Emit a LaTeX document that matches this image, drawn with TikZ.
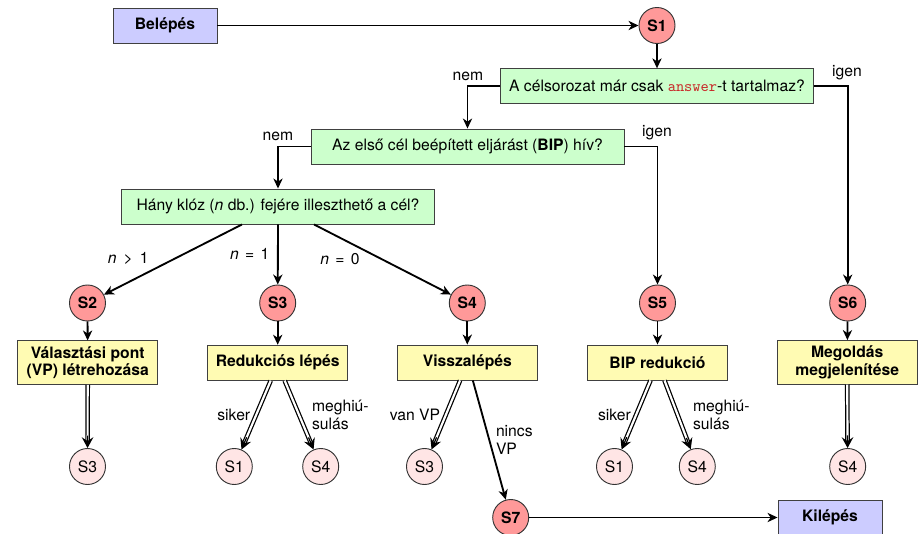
\documentclass[tikz,border=0pt]{standalone}
\usepackage{fontspec}
\setmainfont{TeX Gyre Heros}
\usetikzlibrary{arrows.meta}
\definecolor{ansred}{RGB}{200,40,40}
\begin{document}
\begin{tikzpicture}[x=0.65pt,y=-0.65pt,
  font=\fontsize{10.2}{12}\selectfont,
  >={Stealth[length=6.5pt,width=6pt,inset=2pt]},
  arr/.style={->,line width=1.2pt},
  dbltip/.style={-{Stealth[length=7pt,width=7.5pt,inset=2.5pt]},line width=0.8pt,black},
  dblline/.style={draw=black,double=white,double distance=1.4pt,line width=0.8pt,shorten >=3pt},
  io/.style={draw=black!75,line width=0.6pt,fill=blue!20,minimum width=104*0.65pt,minimum height=35*0.65pt,inner sep=0pt,font=\fontsize{10.2}{12}\selectfont\bfseries},
  qbox/.style={draw=black!75,line width=0.6pt,fill=green!20,minimum width=313*0.65pt,minimum height=35*0.65pt,inner sep=0pt},
  act/.style={draw=black!75,line width=0.6pt,fill=yellow!30,minimum width=140*0.65pt,minimum height=35*0.65pt,inner sep=0pt,align=center,font=\fontsize{10.2}{11.3}\selectfont\bfseries},
  acttwo/.style={act,minimum height=43.5*0.65pt},
  st/.style={circle,draw=black!80,line width=0.6pt,fill=red!40,minimum size=36*0.65pt,inner sep=0pt,font=\fontsize{10.2}{12}\selectfont\bfseries},
  refc/.style={circle,draw=black!80,line width=0.6pt,fill=red!10,minimum size=36*0.65pt,inner sep=0pt},
  lbl/.style={inner sep=0pt,align=left},
]
\useasboundingbox (0,0) rectangle (922,534);
% nodes
\node[io] (in) at (165,25.5) {Belépés};
\node[st] (s1) at (657,25.5) {S1};
\node[qbox] (q1) at (657,86.3) {A célsorozat már csak \textcolor{ansred}{\texttt{answer}}-t tartalmaz?};
\node[qbox] (q2) at (467.5,146.5) {Az első cél beépített eljárást (\textbf{BIP}) hív?};
\node[qbox] (q3) at (278,206.5) {Hány klóz (\textit{n} db.) fejére illeszthető a cél?};
\node[st] (s2) at (87.5,303) {S2};
\node[st] (s3) at (277.7,303) {S3};
\node[st] (s4) at (467.3,303) {S4};
\node[st] (s5) at (657.5,303) {S5};
\node[st] (s6) at (847.7,303) {S6};
\node[acttwo] (a2) at (87.7,362.7) {Választási pont\\(VP) létrehozása};
\node[act] (a3) at (277.7,362.7) {Redukciós lépés};
\node[act] (a4) at (467.3,362.5) {Visszalépés};
\node[act] (a5) at (657.5,362.5) {BIP redukció};
\node[acttwo] (a6) at (847.2,362.3) {Megoldás\\megjelenítése};
\node[refc] (r2) at (87.5,466.5) {S3};
\node[refc] (r3a) at (234.3,466.5) {S1};
\node[refc] (r3b) at (320.7,466.5) {S4};
\node[refc] (r4) at (424.5,466.5) {S3};
\node[refc] (r5a) at (614.5,466.5) {S1};
\node[refc] (r5b) at (697.3,466.5) {S4};
\node[refc] (r6) at (847.7,466.5) {S4};
\node[st] (s7) at (510.7,517.5) {S7};
\node[io] (out) at (830,517.5) {Kilépés};
% connectors
\draw[arr] (in) -- (s1);
\draw[arr] (s1) -- (q1);
\draw[arr] (q1.west) -| (q2.north);
\draw[arr] (q1.east) -| (s6.north);
\draw[arr] (q2.west) -| (q3.north);
\draw[arr] (q2.east) -| (s5.north);
\draw[arr] ([xshift=-23.4pt]q3.south) -- (s2);
\draw[arr] (q3.south) -- (s3);
\draw[arr] ([xshift=23.4pt]q3.south) -- (s4);
\draw[arr] (s2) -- (a2);
\draw[arr] (s3) -- (a3);
\draw[arr] (s4) -- (a4);
\draw[arr] (s5) -- (a5);
\draw[arr] (s6) -- (a6);
\draw[arr] ([xshift=3.6pt]a4.south) -- (s7);
\draw[arr] (s7) -- (out);
% double connectors: start points
\coordinate (b2) at (a2.south);
\coordinate (b3a) at ([xshift=-4.55pt]a3.south);
\coordinate (b3b) at ([xshift=4.55pt]a3.south);
\coordinate (b4) at ([xshift=-4.7pt]a4.south);
\coordinate (b5a) at ([xshift=-4.55pt]a5.south);
\coordinate (b5b) at ([xshift=4.55pt]a5.south);
\coordinate (b6) at (a6.south);
% double line first, then the black tip on a single line shortened at its start
\foreach \s/\t/\c in {b2/r2/33pt,b3a/r3a/40pt,b3b/r3b/40pt,b4/r4/40pt,b5a/r5a/40pt,b5b/r5b/40pt,b6/r6/33pt}{
  \draw[dblline] (\s) -- (\t);
  \draw[dbltip,shorten <=\c] (\s) -- (\t);
}
% labels
\node[lbl,anchor=base] (lnem1) at (468,80) {nem};
\node[lbl,anchor=base] (ligen1) at (847,76.7) {igen};
\node[lbl,anchor=base] (lnem2) at (278,140) {nem};
\node[lbl,anchor=base] (ligen2) at (657,136.7) {igen};
\node[lbl,anchor=base] (lgt) at (128.3,263.3) {\textit{n}\hspace{0.45em}>\hspace{0.45em}1};
\node[lbl,anchor=base] (leq1) at (249.7,259.3) {\textit{n}\hspace{0.4em}=\hspace{0.4em}1};
\node[lbl,anchor=base] (leq0) at (340,264.3) {\textit{n}\hspace{0.4em}=\hspace{0.4em}0};
\node[lbl] (lsik1) at (233.8,415) {siker};
\node[lbl,anchor=west] (lmeg1) at (311.7,415) {meghiú-\\sulás};
\node[lbl] (lvan) at (415,415) {van VP};
\node[lbl,anchor=west] (lnincs) at (495.7,440) {nincs\\VP};
\node[lbl] (lsik2) at (614.5,415) {siker};
\node[lbl,anchor=west] (lmeg2) at (692.7,415) {meghiú-\\sulás};
\end{tikzpicture}
\end{document}
